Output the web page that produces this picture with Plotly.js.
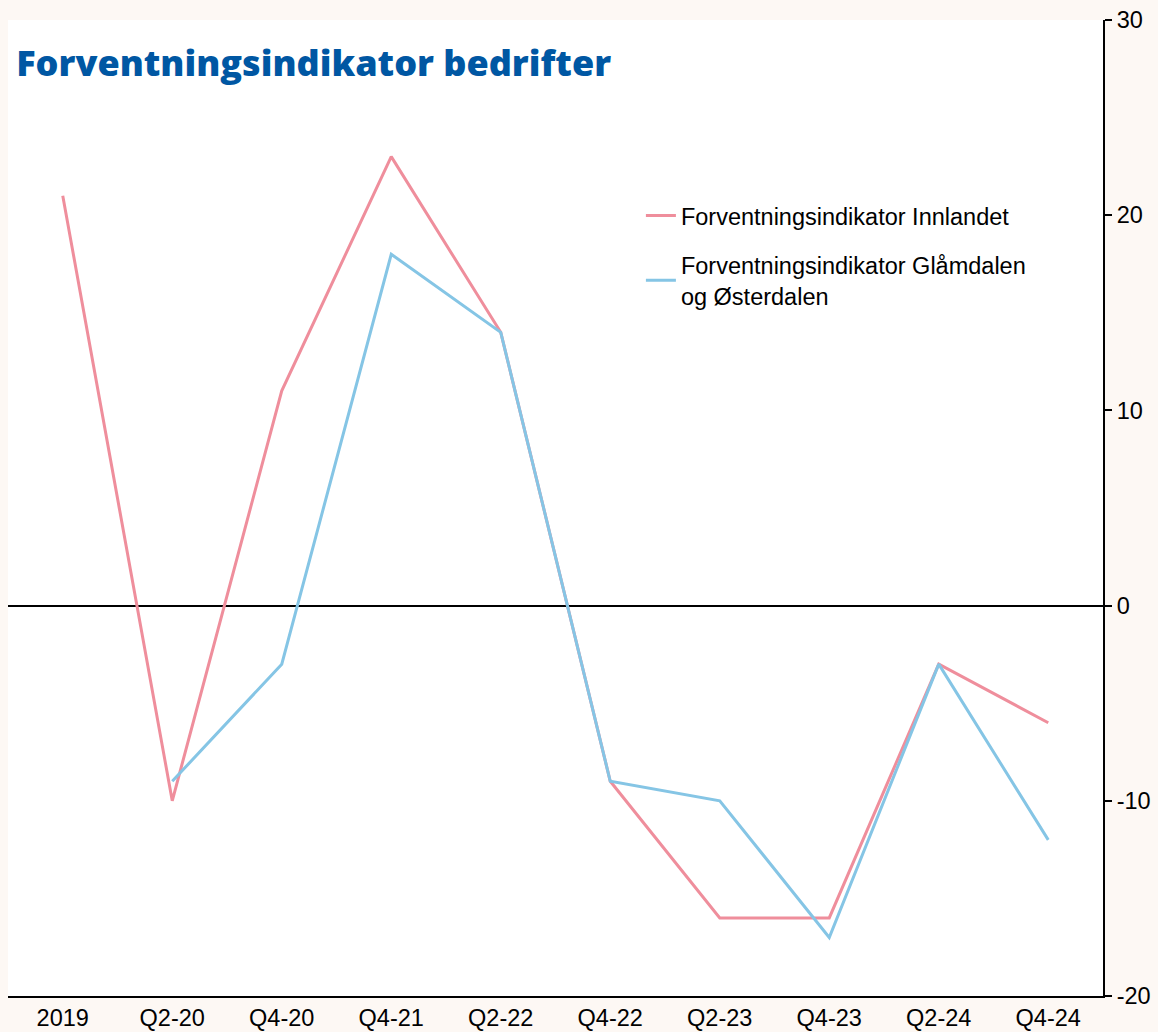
<!DOCTYPE html>
<html>
<head>
<meta charset="utf-8">
<script src="https://cdn.plot.ly/plotly-3.0.1.min.js"></script>
<style>html,body{margin:0;padding:0;background:#fdf8f4;}</style>
</head>
<body>
<div id="chart" style="width:1158px;height:1032px;"></div>
<script>
const categories = ["2019","Q2-20","Q4-20","Q4-21","Q2-22","Q4-22","Q2-23","Q4-23","Q2-24","Q4-24"];
const innlandet = [21,-10,11,23,14,-9,-16,-16,-3,-6];
const glamdalen = [null,-9,-3,18,14,-9,-10,-17,-3,-12];
const seriesNames = ["Forventningsindikator Innlandet","Forventningsindikator Glåmdalen<br>og Østerdalen"];
const chartTitle = "Forventningsindikator bedrifter";
const yTicks = [-20,-10,0,10,20,30];
const yTickLabels = ["-20","-10","0","10","20","30"];

const traces = [
  {x: categories, y: innlandet, name: seriesNames[0], type: "scatter", mode: "lines",
   line: {color: "#ef8e9c", width: 3}, legendgroup: "a"},
  {x: categories, y: glamdalen, name: seriesNames[1], type: "scatter", mode: "lines",
   line: {color: "#85c5e5", width: 3}, legendgroup: "b", connectgaps: false}
];

const layout = {
  width: 1158, height: 1032,
  paper_bgcolor: "#fdf8f4", plot_bgcolor: "#ffffff",
  margin: {l: 8, r: 55, t: 20, b: 36},
  font: {family: "Liberation Sans, Arial, sans-serif", color: "#000", size: 23.5},
  title: {text: chartTitle, xref: "container", yref: "container", x: 0.014, xanchor: "left",
          y: 0.939, yanchor: "middle",
          font: {family: "Open Sans, sans-serif", weight: 800, size: 36, color: "#0057a3"}},
  xaxis: {type: "category", range: [-0.5, 9.5], showline: true, linecolor: "#000", linewidth: 2,
          ticks: "", showgrid: false, zeroline: false, tickfont: {size: 23.5}, fixedrange: true},
  yaxis: {side: "right", range: [-20, 30], tickvals: yTicks, ticktext: yTickLabels, ticks: "outside", ticklen: 7,
          tickwidth: 2, tickcolor: "#000", showline: true, linecolor: "#000", linewidth: 2,
          showgrid: false, zeroline: true, zerolinecolor: "#000", zerolinewidth: 2,
          tickfont: {size: 23.5}, fixedrange: true},
  showlegend: true,
  legend: {x: 0.578, y: 0.822, xanchor: "left", yanchor: "top", bgcolor: "rgba(0,0,0,0)",
           font: {size: 23.5}, traceorder: "grouped", tracegroupgap: 16, itemwidth: 30}
};

Plotly.newPlot("chart", traces, layout, {displayModeBar: false, staticPlot: true});
</script>
</body>
</html>
